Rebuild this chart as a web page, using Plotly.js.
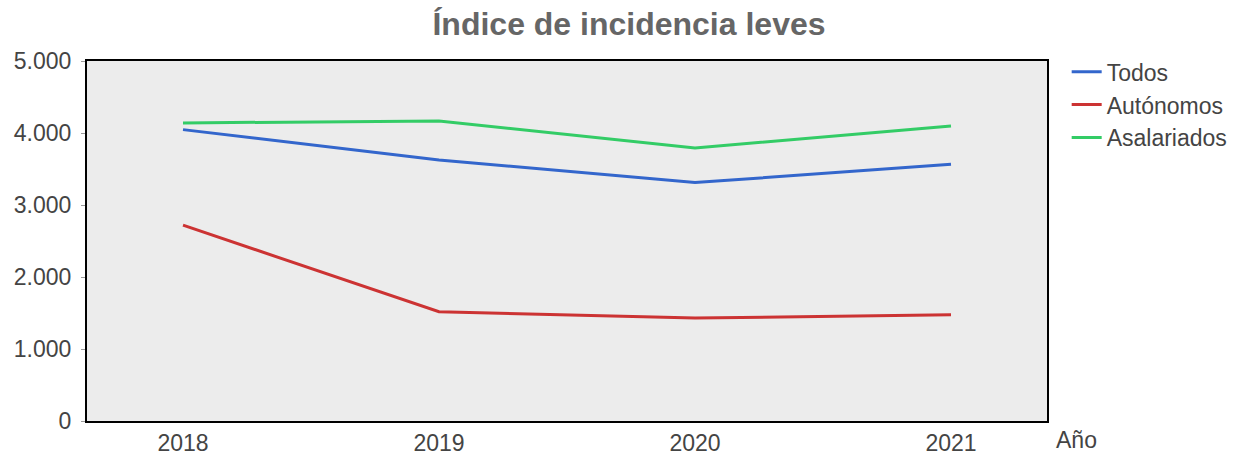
<!DOCTYPE html>
<html>
<head>
<meta charset="utf-8">
<script src="https://cdn.plot.ly/plotly-3.0.1.min.js"></script>
<style>html,body{margin:0;padding:0;background:#fff;}#chart{width:1247px;height:455px;}</style>
</head>
<body>
<div id="chart"></div>
<script>
const years = [2018, 2019, 2020, 2021];
const todos = [4047, 3626, 3311, 3566];
const autonomos = [2720, 1517, 1429, 1475];
const asalariados = [4140, 4167, 3793, 4098];
const yTickVals = [0, 1000, 2000, 3000, 4000, 5000];
const yTickText = ['0', '1.000', '2.000', '3.000', '4.000', '5.000'];

const font = 'Arial, "Liberation Sans", sans-serif';
const traces = [
  {x: years, y: todos, name: 'Todos', mode: 'lines', line: {color: '#3366cc', width: 3}},
  {x: years, y: autonomos, name: 'Autónomos', mode: 'lines', line: {color: '#cc3333', width: 3}},
  {x: years, y: asalariados, name: 'Asalariados', mode: 'lines', line: {color: '#33cc66', width: 3}}
];
const layout = {
  width: 1247, height: 455,
  margin: {l: 87, r: 200, t: 61, b: 34},
  paper_bgcolor: '#ffffff',
  plot_bgcolor: '#ececec',
  font: {family: font, size: 23, color: '#444444'},
  title: {text: 'Índice de incidencia leves', x: 0.5044, xanchor: 'center', y: 0.947, yanchor: 'middle',
          font: {family: font, size: 32, color: '#666666', weight: 'bold'}},
  showlegend: true,
  legend: {x: 1.0205, xanchor: 'left', y: 1.03, yanchor: 'top', font: {size: 23, color: '#444444'},
           bgcolor: 'rgba(0,0,0,0)', tracegroupgap: 0},
  xaxis: {
    range: [2017.625, 2021.375], tickvals: years, ticktext: years.map(String),
    showgrid: false, zeroline: false, showline: true, mirror: true, linecolor: '#000000', linewidth: 2,
    ticks: '', tickfont: {size: 23, color: '#444444'}
  },
  yaxis: {
    range: [0, 5000], tickvals: yTickVals, ticktext: yTickText,
    showgrid: false, zeroline: false, showline: true, mirror: true, linecolor: '#000000', linewidth: 2,
    ticks: 'outside', ticklen: 4, tickcolor: '#999999', tickwidth: 1, ticklabelstandoff: 5,
    tickfont: {size: 23, color: '#444444'}
  },
  annotations: [{
    text: 'Año', xref: 'paper', yref: 'paper', x: 1.0073, y: 0, xanchor: 'left', yanchor: 'middle',
    yshift: -19, showarrow: false, font: {size: 23, color: '#444444'}
  }]
};
Plotly.newPlot('chart', traces, layout, {displayModeBar: false, staticPlot: true});
</script>
</body>
</html>
